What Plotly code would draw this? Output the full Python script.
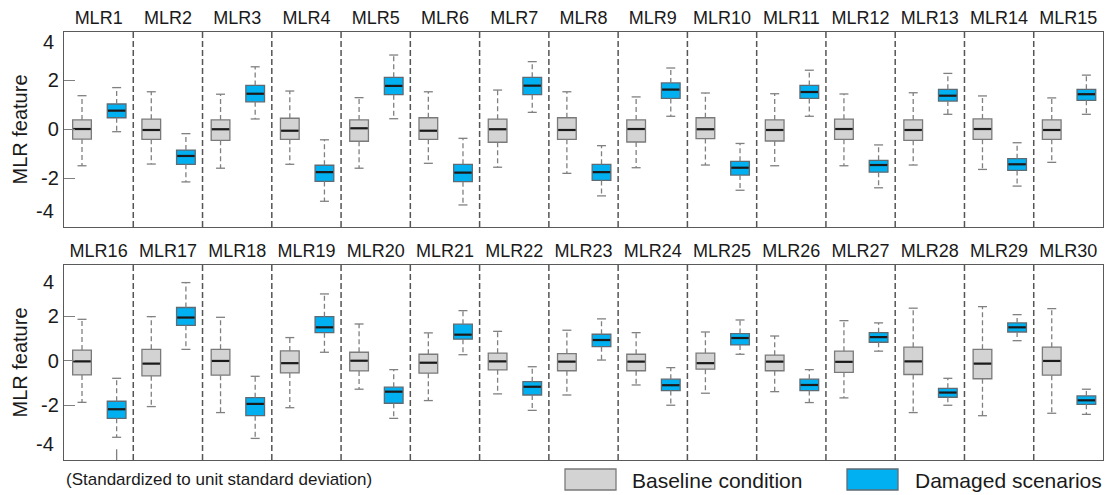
import plotly.graph_objects as go

# Feature names, 15 per panel row
features = ["MLR1", "MLR2", "MLR3", "MLR4", "MLR5", "MLR6", "MLR7", "MLR8",
            "MLR9", "MLR10", "MLR11", "MLR12", "MLR13", "MLR14", "MLR15",
            "MLR16", "MLR17", "MLR18", "MLR19", "MLR20", "MLR21", "MLR22",
            "MLR23", "MLR24", "MLR25", "MLR26", "MLR27", "MLR28", "MLR29", "MLR30"]

# Baseline condition: whisker ends, quartiles and median
base_upper = [1.36, 1.52, 1.42, 1.55, 1.28, 1.52, 1.59, 1.52, 1.31, 1.47, 1.44, 1.43, 1.48, 1.35, 1.27,
              1.87, 1.99, 1.96, 1.05, 1.66, 1.26, 1.33, 1.38, 1.27, 1.30, 1.12, 1.81, 2.37, 2.44, 2.35]
base_q3 = [0.37, 0.40, 0.37, 0.44, 0.37, 0.46, 0.40, 0.46, 0.37, 0.46, 0.37, 0.40, 0.37, 0.41, 0.37,
           0.49, 0.52, 0.52, 0.45, 0.39, 0.30, 0.35, 0.33, 0.30, 0.35, 0.26, 0.44, 0.62, 0.52, 0.62]
base_median = [0.00, -0.04, -0.01, -0.07, 0.03, -0.07, -0.01, -0.04, 0.00, -0.01, -0.04, 0.00, -0.04, 0.00, -0.04,
               -0.02, -0.12, 0.00, -0.10, 0.01, -0.08, -0.02, -0.03, -0.03, -0.10, -0.03, -0.04, -0.02, -0.12, 0.00]
base_q1 = [-0.41, -0.42, -0.46, -0.42, -0.50, -0.42, -0.54, -0.42, -0.53, -0.39, -0.49, -0.42, -0.46, -0.42, -0.42,
           -0.63, -0.67, -0.64, -0.54, -0.45, -0.55, -0.40, -0.44, -0.44, -0.37, -0.44, -0.51, -0.61, -0.80, -0.64]
base_lower = [-1.50, -1.43, -1.60, -1.44, -1.60, -1.40, -1.56, -1.81, -1.58, -1.47, -1.50, -1.50, -1.47, -1.65, -1.36,
              -1.86, -2.05, -2.32, -2.10, -1.27, -1.78, -1.48, -1.53, -1.08, -1.45, -1.38, -1.66, -2.32, -2.46, -2.35]

# Damaged scenarios: whisker ends, quartiles and median
dmg_upper = [1.69, -0.19, 2.54, -0.44, 3.02, -0.38, 2.75, -0.68, 2.49, -0.59, 2.40, -0.65, 2.27, -0.56, 2.20,
             -0.78, 3.52, -0.69, 3.01, -0.39, 2.26, -0.26, 1.89, -0.30, 1.84, -0.39, 1.71, -0.78, 2.08, -1.27]
dmg_q3 = [1.02, -0.86, 1.78, -1.48, 2.11, -1.44, 2.11, -1.44, 1.88, -1.32, 1.78, -1.28, 1.62, -1.21, 1.62,
          -1.81, 2.40, -1.65, 1.99, -1.18, 1.65, -0.93, 1.20, -0.82, 1.23, -0.82, 1.27, -1.23, 1.71, -1.57]
dmg_median = [0.75, -1.10, 1.44, -1.76, 1.76, -1.78, 1.77, -1.76, 1.61, -1.58, 1.51, -1.47, 1.36, -1.44, 1.42,
              -2.17, 1.95, -1.93, 1.51, -1.38, 1.18, -1.16, 0.94, -1.09, 1.03, -1.08, 1.07, -1.42, 1.51, -1.77]
dmg_q1 = [0.46, -1.44, 1.11, -2.14, 1.40, -2.15, 1.40, -2.10, 1.25, -1.88, 1.25, -1.76, 1.14, -1.69, 1.17,
          -2.58, 1.60, -2.46, 1.27, -1.90, 0.98, -1.53, 0.64, -1.33, 0.72, -1.33, 0.84, -1.63, 1.30, -1.95]
dmg_lower = [-0.11, -2.16, 0.41, -2.95, 0.42, -3.10, 0.68, -2.73, 0.52, -2.50, 0.52, -2.40, 0.60, -2.33, 0.60,
             -3.43, 0.52, -3.48, 0.39, -2.58, 0.28, -2.22, 0.04, -1.99, 0.30, -1.87, 0.44, -1.99, 0.91, -2.40]

# Outlier beyond the whisker
dmg_outlier_feature = ["MLR16"]
dmg_outlier_value = [-4.6]

y_ticks = [-2, 0, 2]
y_tick_text = ["-2", "0", "2"]

FONT = "Liberation Sans, Arial, sans-serif"
W, H = 1105, 495
BOX_W = 0.27
CAP_HALF = 0.065
GRAY_FILL, GRAY_EDGE = "#d3d3d3", "#7a7a7a"
BLUE_FILL, BLUE_EDGE = "#00b0f0", "#5f6b73"
WHISKER = "#808080"
FRAME = "#5a5a5a"
TEXT = "#1a1a1a"

rows = [
    dict(idx=range(0, 15), xa="x", ya="y", top=32, bottom=227, yrange=[-4.0, 3.96],
         lab4=42, labm4=211),
    dict(idx=range(15, 30), xa="x2", ya="y2", top=265, bottom=460, yrange=[-4.45, 4.31],
         lab4=282, labm4=444),
]

series = [
    dict(name="Baseline condition", off=-0.24, fill=GRAY_FILL, edge=GRAY_EDGE,
         up=base_upper, q3=base_q3, med=base_median, q1=base_q1, lo=base_lower),
    dict(name="Damaged scenarios", off=0.26, fill=BLUE_FILL, edge=BLUE_EDGE,
         up=dmg_upper, q3=dmg_q3, med=dmg_median, q1=dmg_q1, lo=dmg_lower),
]

fig = go.Figure()
layout_axes = {}
shapes = []
annotations = []

for r, row in enumerate(rows):
    idx = list(row["idx"])
    sfx = "" if r == 0 else "2"
    # boxes (interquartile range only; whiskers are drawn separately as dashed lines)
    for s in series:
        xs = [k - idx[0] + s["off"] for k in idx]
        fig.add_trace(go.Box(
            name=s["name"], x=xs,
            q1=[s["q1"][k] for k in idx], median=[s["med"][k] for k in idx],
            q3=[s["q3"][k] for k in idx],
            lowerfence=[s["q1"][k] for k in idx], upperfence=[s["q3"][k] for k in idx],
            width=BOX_W, whiskerwidth=0, fillcolor=s["fill"],
            line=dict(color=s["edge"], width=1.3), boxpoints=False,
            showlegend=False, xaxis=row["xa"], yaxis=row["ya"], hoverinfo="skip",
        ))
    # whiskers, caps and medians
    for s in series:
        wx, wy, cx, cy, mx, my = [], [], [], [], [], []
        for k in idx:
            x = k - idx[0] + s["off"]
            wx += [x, x, None, x, x, None]
            wy += [s["q3"][k], s["up"][k], None, s["q1"][k], s["lo"][k], None]
            cx += [x - CAP_HALF, x + CAP_HALF, None, x - CAP_HALF, x + CAP_HALF, None]
            cy += [s["up"][k], s["up"][k], None, s["lo"][k], s["lo"][k], None]
            mx += [x - BOX_W / 2 + 0.01, x + BOX_W / 2 - 0.01, None]
            my += [s["med"][k], s["med"][k], None]
        fig.add_trace(go.Scatter(x=wx, y=wy, mode="lines", showlegend=False, hoverinfo="skip",
                                 line=dict(color=WHISKER, width=1.3, dash="5px,3px"),
                                 xaxis=row["xa"], yaxis=row["ya"]))
        fig.add_trace(go.Scatter(x=cx, y=cy, mode="lines", showlegend=False, hoverinfo="skip",
                                 line=dict(color=WHISKER, width=1.3),
                                 xaxis=row["xa"], yaxis=row["ya"]))
        fig.add_trace(go.Scatter(x=mx, y=my, mode="lines", showlegend=False, hoverinfo="skip",
                                 line=dict(color=TEXT, width=2.2),
                                 xaxis=row["xa"], yaxis=row["ya"]))
    # outliers
    ox = [features.index(f) - idx[0] + series[1]["off"] for f in dmg_outlier_feature
          if features.index(f) in idx]
    oy = [v for f, v in zip(dmg_outlier_feature, dmg_outlier_value) if features.index(f) in idx]
    if ox:
        fig.add_trace(go.Scatter(x=ox, y=oy, mode="markers", showlegend=False, hoverinfo="skip",
                                 marker=dict(symbol="cross-thin", size=20,
                                             line=dict(color=WHISKER, width=1.3)),
                                 xaxis=row["xa"], yaxis=row["ya"]))

    layout_axes["xaxis" + sfx] = dict(
        domain=[64 / W, 1103 / W], range=[-0.5, 14.5], side="top", anchor=row["ya"],
        tickvals=list(range(15)), ticktext=[features[k] for k in idx], ticks="",
        tickfont=dict(size=18, color=TEXT, family=FONT),
        showline=True, mirror=True, linecolor=FRAME, linewidth=1.3,
        showgrid=False, zeroline=False, fixedrange=True,
    )
    layout_axes["yaxis" + sfx] = dict(
        domain=[1 - row["bottom"] / H, 1 - row["top"] / H], range=row["yrange"],
        anchor=row["xa"], tickvals=y_ticks, ticktext=y_tick_text,
        ticks="inside", ticklen=11, tickcolor=WHISKER, tickwidth=1.3,
        tickfont=dict(size=20, color=TEXT, family=FONT),
        showline=True, mirror=True, linecolor=FRAME, linewidth=1.3,
        showgrid=False, zeroline=False, fixedrange=True,
        title=dict(text="MLR feature", font=dict(size=20, color=TEXT, family=FONT), standoff=8),
    )
    # group separators
    for j in range(14):
        shapes.append(dict(type="line", xref=row["xa"], x0=j + 0.5, x1=j + 0.5,
                           yref=row["ya"] + " domain", y0=0, y1=1,
                           line=dict(color="#555555", width=1.5, dash="6px,3px")))
    # outer labels of the value axis
    for txt, ypix in (("4", row["lab4"]), ("-4", row["labm4"])):
        annotations.append(dict(text=txt, xref="paper", yref="paper", x=56 / W, y=1 - ypix / H,
                                xanchor="right", yanchor="middle", showarrow=False,
                                font=dict(size=20, color=TEXT, family=FONT)))

# legend and footnote
annotations.append(dict(text="(Standardized to unit standard deviation)", xref="paper", yref="paper",
                        x=64 / W, y=1 - 479 / H, xanchor="left", yanchor="middle", showarrow=False,
                        font=dict(size=17, color=TEXT, family=FONT)))
for s, x0, tx in ((series[0], 565, 630), (series[1], 847, 913)):
    shapes.append(dict(type="rect", xref="paper", yref="paper",
                       x0=x0 / W, x1=(x0 + 51) / W, y0=1 - 490 / H, y1=1 - 469 / H,
                       fillcolor=s["fill"], line=dict(color=s["edge"], width=1.3)))
    annotations.append(dict(text=s["name"], xref="paper", yref="paper", x=tx / W, y=1 - 480 / H,
                            xanchor="left", yanchor="middle", showarrow=False,
                            font=dict(size=21, color=TEXT, family=FONT)))

fig.update_layout(
    width=W, height=H, margin=dict(l=0, r=0, t=0, b=0),
    paper_bgcolor="white", plot_bgcolor="white", boxmode="overlay",
    shapes=shapes, annotations=annotations, showlegend=False,
    font=dict(family=FONT),
    **layout_axes,
)

fig.write_html("out.html", config={"displayModeBar": False})
